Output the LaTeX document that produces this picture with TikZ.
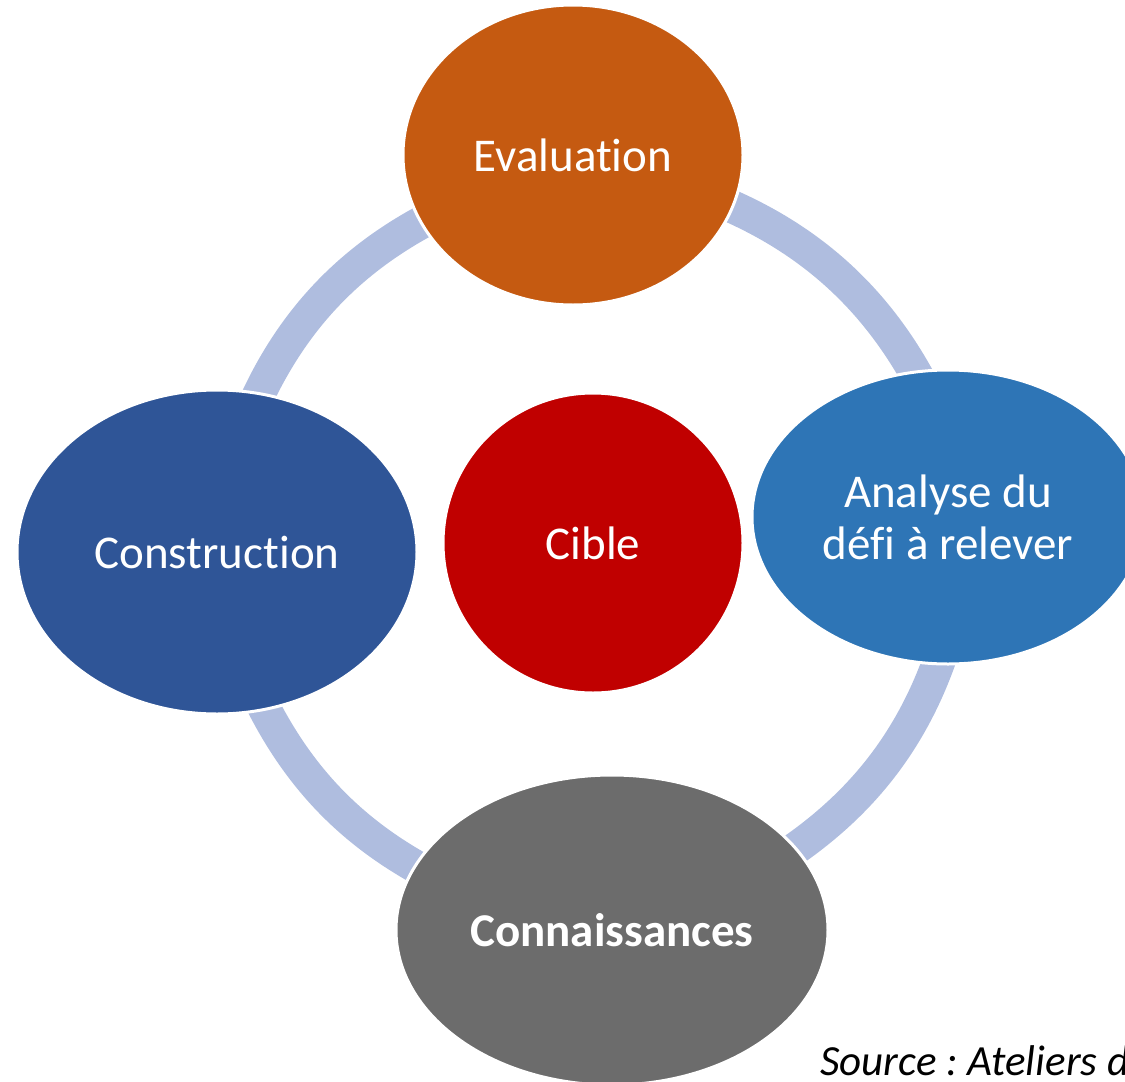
\documentclass[tikz,border=0pt]{standalone}
\usepackage{fontspec}
\setmainfont{Carlito}[Ligatures=CommonOff]
\usepackage{tikz}
\usetikzlibrary{shapes,backgrounds}
\definecolor{evalOrange}{HTML}{C55A11}
\definecolor{defiBlue}{HTML}{2E75B6}
\definecolor{buildBlue}{HTML}{2F5597}
\definecolor{cibleRed}{HTML}{C00000}
\definecolor{knowGray}{HTML}{6C6C6C}
\definecolor{ringBlue}{HTML}{AFBDDF}
\frenchspacing

\begin{document}
\begin{tikzpicture}[x=1pt, y=1pt,
    phase/.style={ellipse, draw=white, line width=3pt, inner sep=0pt, text=white, align=center, font=\fontsize{47}{52}\selectfont},
    ring/.style={draw=ringBlue, line width=33pt, looseness=0.875, shorten <=-12pt, shorten >=-12pt},
    source/.style={anchor=base west, inner sep=0pt, font=\fontsize{43}{50}\selectfont\itshape}
  ]
  \useasboundingbox (0,0) rectangle (1125,-1082);
  \node[phase, fill=evalOrange, minimum width=340pt, minimum height=300pt] (eval) at (573,-155) {Evaluation};
  \node[phase, fill=defiBlue, minimum width=392pt, minimum height=294pt] (defi) at (948,-517) {Analyse du\\défi à relever};
  \node[phase, fill=buildBlue, minimum width=400pt, minimum height=324pt] (build) at (217,-552) {Construction};
  \node[phase, fill=cibleRed, minimum width=300pt, minimum height=300pt] (cible) at (593,-543) {Cible};
  \node[phase, fill=knowGray, minimum width=432pt, minimum height=310pt, font=\fontsize{47}{52}\selectfont\bfseries] (know) at (612,-930) {Connaissances};
  \node[source] (src) at (820,-1075) {Source : Ateliers d};
  % ring segments behind the phases
  \begin{scope}[on background layer]
    \draw[ring] (eval.-18.4) to[out=-23, in=118.5] (defi.103.8);
    \draw[ring] (defi.-94.7) to[out=-109, in=34] (know.24.1);
    \draw[ring] (know.162.1) to[out=151.4, in=-63.5] (build.-73.8);
    \draw[ring] (build.75.9) to[out=65.5, in=207.6] (eval.-156.7);
  \end{scope}
\end{tikzpicture}
\end{document}
